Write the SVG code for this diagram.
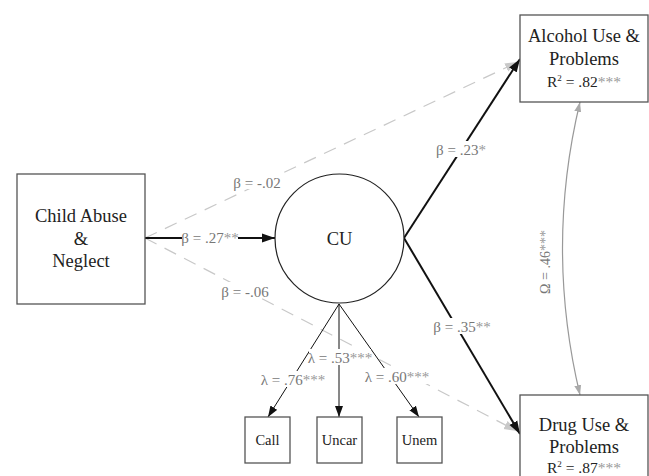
<svg xmlns="http://www.w3.org/2000/svg" width="649" height="476" viewBox="0 0 649 476">
<defs>
<style>
.box{fill:#fff;stroke:#555;stroke-width:1.3}
.nt{font-family:"Liberation Serif","Times New Roman",serif;font-size:18.5px;fill:#222;text-anchor:middle}
.st{font-family:"Liberation Serif","Times New Roman",serif;font-size:14.5px;fill:#222;text-anchor:middle}
.lb{font-family:"Liberation Serif","Times New Roman",serif;font-size:15px;fill:#777;text-anchor:middle}
.bg{fill:#fff;stroke:none}
.ast{fill:#999}
.dash{fill:none;stroke:#c8c8c8;stroke-width:1.2;stroke-dasharray:13 9}
.thick{fill:none;stroke:#111;stroke-width:2}
.thin{fill:none;stroke:#111;stroke-width:1}
</style>
<marker id="ab" markerUnits="userSpaceOnUse" markerWidth="14" markerHeight="10" refX="13" refY="5" orient="auto"><path d="M0,0.5 L13,5 L0,9.5 z" fill="#111"/></marker>
<marker id="as" markerUnits="userSpaceOnUse" markerWidth="12" markerHeight="10" refX="11" refY="4.5" orient="auto"><path d="M0,0.5 L11,4.5 L0,8.5 z" fill="#111"/></marker>
<marker id="ag" markerUnits="userSpaceOnUse" markerWidth="14" markerHeight="10" refX="13" refY="5" orient="auto"><path d="M0,0.5 L13,5 L0,9.5 z" fill="#c8c8c8"/></marker>
<marker id="ac" markerUnits="userSpaceOnUse" markerWidth="12" markerHeight="10" refX="10" refY="4" orient="auto-start-reverse"><path d="M0,0.5 L10,4 L0,7.5 z" fill="#aaa"/></marker>
</defs>
<g id="connectors">
<line class="dash" x1="145" y1="238" x2="518" y2="62" marker-end="url(#ag)"/>
<line class="dash" x1="145" y1="238" x2="517" y2="431" marker-end="url(#ag)"/>
<line class="thick" x1="145" y1="238" x2="275" y2="238" marker-end="url(#ab)"/>
<line class="thick" x1="404" y1="238" x2="520" y2="59" marker-end="url(#ab)"/>
<line class="thick" x1="404" y1="238" x2="520" y2="434" marker-end="url(#ab)"/>
<line class="thin" x1="339" y1="304" x2="268" y2="417" marker-end="url(#as)"/>
<line class="thin" x1="339" y1="304" x2="339" y2="417" marker-end="url(#as)"/>
<line class="thin" x1="339" y1="304" x2="419" y2="417" marker-end="url(#as)"/>
<path d="M580,102 Q545,248 580,395" fill="none" stroke="#999" stroke-width="1.2" marker-start="url(#ac)" marker-end="url(#ac)"/>
<rect class="bg" x="232" y="173" width="50" height="16"/>
<text class="lb" x="257" y="188">β = -.02</text>
<rect class="bg" x="182" y="229" width="56" height="16"/>
<text class="lb" x="210" y="243">β = .27<tspan class="ast">**</tspan></text>
<rect class="bg" x="220" y="282" width="50" height="16"/>
<text class="lb" x="245" y="297">β = -.06</text>
<rect class="bg" x="438" y="141" width="46" height="16"/>
<text class="lb" x="461" y="155">β = .23<tspan class="ast">*</tspan></text>
<rect class="bg" x="434" y="318" width="56" height="16"/>
<text class="lb" x="462" y="332">β = .35<tspan class="ast">**</tspan></text>
<rect class="bg" x="262" y="371" width="62" height="16"/>
<text class="lb" x="293" y="385">λ = .76<tspan class="ast">***</tspan></text>
<rect class="bg" x="309" y="349" width="62" height="16"/>
<text class="lb" x="340" y="363">λ = .53<tspan class="ast">***</tspan></text>
<rect class="bg" x="366" y="368" width="62" height="16"/>
<text class="lb" x="397" y="382">λ = .60<tspan class="ast">***</tspan></text>
<text class="lb" transform="translate(550,262) rotate(-90)" style="font-size:14px">Ω = .46<tspan class="ast">***</tspan></text>
</g>
<g id="child">
<rect class="box" x="17" y="174" width="128" height="130"/>
<text class="nt" x="81" y="222">Child Abuse</text>
<text class="nt" x="81" y="245">&amp;</text>
<text class="nt" x="81" y="267">Neglect</text>
</g>
<g id="cu">
<circle cx="339.5" cy="238.5" r="64.5" fill="#fff" stroke="#222" stroke-width="1.2"/>
<text class="nt" x="339.5" y="245">CU</text>
</g>
<g id="alcohol">
<rect class="box" x="520" y="15" width="128" height="87"/>
<text class="nt" x="584" y="42">Alcohol Use &amp;</text>
<text class="nt" x="584" y="65">Problems</text>
<text class="st" x="584" y="87" style="font-size:15.5px">R<tspan dy="-6" style="font-size:9px">2</tspan><tspan dy="6"> = .82</tspan><tspan class="ast">***</tspan></text>
</g>
<g id="drug">
<rect class="box" x="520" y="395" width="128" height="90"/>
<text class="nt" x="584" y="431">Drug Use &amp;</text>
<text class="nt" x="584" y="453">Problems</text>
<text class="st" x="584" y="473" style="font-size:15.5px">R<tspan dy="-6" style="font-size:9px">2</tspan><tspan dy="6"> = .87</tspan><tspan class="ast">***</tspan></text>
</g>
<g id="call">
<rect class="box" x="245" y="417" width="45" height="46"/>
<text class="st" x="267.5" y="445">Call</text>
</g>
<g id="uncar">
<rect class="box" x="317" y="417" width="45" height="46"/>
<text class="st" x="339.5" y="445">Uncar</text>
</g>
<g id="unem">
<rect class="box" x="397" y="417" width="45" height="46"/>
<text class="st" x="419.5" y="445">Unem</text>
</g>
</svg>
